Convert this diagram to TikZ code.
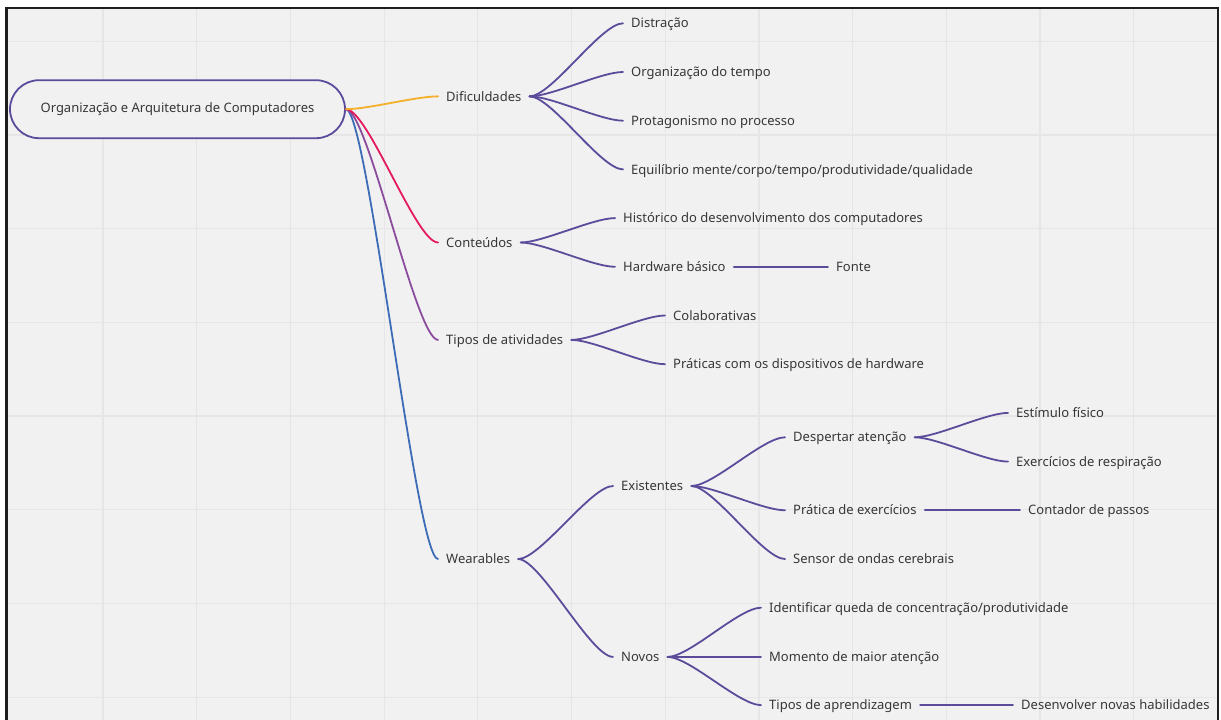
\documentclass[tikz,border=0pt]{standalone}
\usepackage{fontspec}
\setmainfont{Noto Sans}
\usetikzlibrary{calc}

\definecolor{bg}{RGB}{241,241,241}
\definecolor{gridc}{RGB}{230,230,230}
\definecolor{frame}{RGB}{30,30,30}
\definecolor{txt}{RGB}{55,55,55}
\definecolor{lk}{RGB}{92,75,155}
\definecolor{lkyellow}{RGB}{245,175,40}
\definecolor{lkpink}{RGB}{229,25,94}
\definecolor{lkviolet}{RGB}{140,76,158}
\definecolor{lkblue}{RGB}{60,108,183}

\tikzset{
  lbl/.style={anchor=west, inner xsep=8pt, inner ysep=0pt,
    text height=12.8pt, text depth=3.5pt,
    font=\fontsize{13}{15}\selectfont, text=txt},
  rootbox/.style={draw=lk, line width=1.8pt, fill=bg,
    rounded corners=29pt, minimum width=335pt, minimum height=58pt,
    inner sep=0pt, font=\fontsize{13}{15}\selectfont, text=txt},
  link/.style={draw=lk, line width=1.8pt, line cap=round},
  gridline/.style={draw=gridc, line width=1.2pt},
  curve/.style={to path={.. controls +(22,0) and +(-22,0) .. (\tikztotarget)}}
}

\begin{document}
\begin{tikzpicture}[x=1pt,y=-1pt]
  \path[use as bounding box] (0,0) rectangle (1221,720);
  \fill[white] (0,0) rectangle (1221,720);
  \fill[bg] (6,8) rectangle (1218,720);

  % background grid
  \begin{scope}
    \clip (6,8) rectangle (1218,720);
    \foreach \i in {0,...,11} \draw[gridline] ({103+93.7*\i},8) -- ({103+93.7*\i},720);
    \foreach \i in {0,...,7} \draw[gridline] (6,{41.2+93.7*\i}) -- (1218,{41.2+93.7*\i});
  \end{scope}

  % frame
  \draw[frame, line width=2.6pt] (6.3,720) -- (6.3,7.8) -- (1217.8,7.8) -- (1217.8,720);

  % central topic
  \node[rootbox] (root) at (177.5,109.2) {Organização e Arquitetura de Computadores};

  % main branches
  \node[lbl] (dif)   at (438,96.35) {Dificuldades};
  \node[lbl] (cont)  at (438,242.5) {Conteúdos};
  \node[lbl] (tipos) at (438,339.9) {Tipos de atividades};
  \node[lbl] (wear)  at (438,559)   {Wearables};

  % Dificuldades
  \node[lbl] (d1) at (623,23.3)  {Distração};
  \node[lbl] (d2) at (623,72)    {Organização do tempo};
  \node[lbl] (d3) at (623,120.7) {Protagonismo no processo};
  \node[lbl] (d4) at (623,169.4) {Equilíbrio mente/corpo/tempo/produtividade/qualidade};

  % Conteúdos
  \node[lbl] (c1) at (615,218.1) {Histórico do desenvolvimento dos computadores};
  \node[lbl] (c2) at (615,266.8) {Hardware básico};
  \node[lbl] (c2a) at (828,266.8) {Fonte};

  % Tipos de atividades
  \node[lbl] (t1) at (665,315.5) {Colaborativas};
  \node[lbl] (t2) at (665,364.2) {Práticas com os dispositivos de hardware};

  % Wearables
  \node[lbl] (ex) at (613,486)   {Existentes};
  \node[lbl] (nv) at (613,656.9) {Novos};

  \node[lbl] (e1) at (785,437.3) {Despertar atenção};
  \node[lbl] (e2) at (785,510.3) {Prática de exercícios};
  \node[lbl] (e3) at (785,559)   {Sensor de ondas cerebrais};

  \node[lbl] (e1a) at (1008,412.9) {Estímulo físico};
  \node[lbl] (e1b) at (1008,461.6) {Exercícios de respiração};
  \node[lbl] (e2a) at (1020,510.3) {Contador de passos};

  \node[lbl] (n1) at (761,607.7) {Identificar queda de concentração/produtividade};
  \node[lbl] (n2) at (761,656.9) {Momento de maior atenção};
  \node[lbl] (n3) at (761,705.1) {Tipos de aprendizagem};
  \node[lbl] (n3a) at (1013,705.1) {Desenvolver novas habilidades};

  % connectors from the central topic
  \draw[link, draw=lkblue]   (root.east) to[curve] (wear.west);
  \draw[link, draw=lkviolet] (root.east) to[curve] (tipos.west);
  \draw[link, draw=lkpink]   (root.east) to[curve] (cont.west);
  \draw[link, draw=lkyellow] (root.east) to[curve] (dif.west);

  % second-level connectors
  \foreach \c in {d1,d2,d3,d4} \draw[link] (dif.east) to[curve] (\c.west);
  \foreach \c in {c1,c2} \draw[link] (cont.east) to[curve] (\c.west);
  \draw[link] (c2.east) -- (c2a.west);
  \foreach \c in {t1,t2} \draw[link] (tipos.east) to[curve] (\c.west);
  \foreach \c in {ex,nv} \draw[link] (wear.east) to[curve] (\c.west);
  \foreach \c in {e1,e2,e3} \draw[link] (ex.east) to[curve] (\c.west);
  \foreach \c in {e1a,e1b} \draw[link] (e1.east) to[curve] (\c.west);
  \draw[link] (e2.east) -- (e2a.west);
  \foreach \c in {n1,n3} \draw[link] (nv.east) to[curve] (\c.west);
  \draw[link] (nv.east) -- (n2.west);
  \draw[link] (n3.east) -- (n3a.west);
\end{tikzpicture}
\end{document}
